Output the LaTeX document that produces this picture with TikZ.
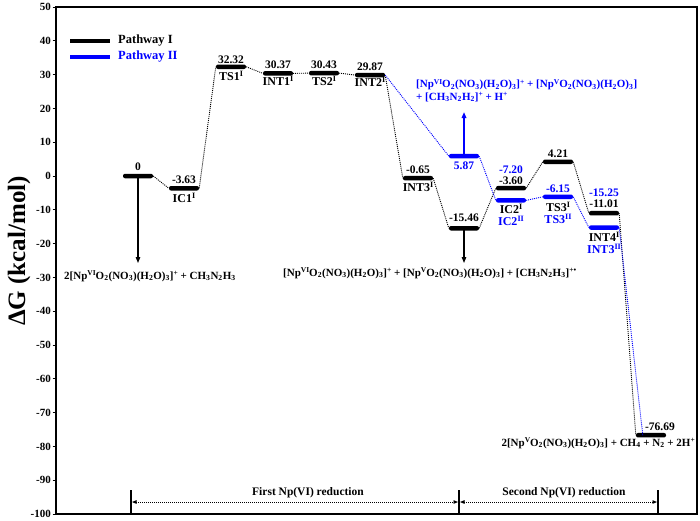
\documentclass[tikz,border=0pt]{standalone}
\usepackage{fontspec}
\setmainfont{Liberation Serif}
\usetikzlibrary{arrows.meta}
\makeatletter
\newcommand\SP[1]{\raisebox{0.34em}{\fontsize{\fpeval{0.68*\f@size}}{1}\selectfont #1}}
\makeatother
\newcommand\SB[1]{\textsubscript{#1}}
\definecolor{pblue}{RGB}{0,0,255}
\begin{document}
\begin{tikzpicture}[x=1pt,y=1pt,
  bar/.style={rectangle,fill=black,minimum width=30pt,minimum height=4.5pt,inner sep=0pt,rounded corners=2pt},
  bbar/.style={bar,fill=pblue},
  lab/.style={font=\fontsize{11}{12}\selectfont\bfseries,inner sep=0pt},
  blab/.style={lab,text=pblue},
  num/.style={font=\fontsize{11.5}{12}\selectfont\bfseries,inner sep=0pt},
  bnum/.style={num,text=pblue},
  nam/.style={font=\fontsize{12}{13}\selectfont\bfseries,inner sep=0pt},
  bnam/.style={nam,text=pblue},
  conn/.style={draw=black,line width=0.9pt,dash pattern=on 1pt off 1pt},
  bconn/.style={conn,draw=pblue},
  tip/.style={-{Triangle[length=6pt,width=4.5pt]}},
  mtip/.style={{Triangle[length=4.5pt,width=3.5pt]}-{Triangle[length=4.5pt,width=3.5pt]}},
]
\useasboundingbox (0,-520) rectangle (700,0);
% frame
\draw[line width=1.8pt] (56,-7) rectangle (697,-514);
% ticks
\foreach \v [count=\i] in {50,40,...,-100} {
  \draw[line width=1pt] (52.5,{-176+3.38*\v}) -- (56,{-176+3.38*\v});
  \node[lab,anchor=east] (tk\i) at (51,{-176+3.38*\v}) {\v};
}
\node[rotate=90,font=\fontsize{25}{28}\selectfont\bfseries,inner sep=0pt] (ylab) at (19,-251) {ΔG (kcal/mol)};
% legend
\coordinate (lg1a) at (70,-41); \coordinate (lg1b) at (110,-41);
\coordinate (lg2a) at (70,-57); \coordinate (lg2b) at (110,-57);
\draw[line width=4pt] (lg1a) -- (lg1b);
\draw[line width=4pt,pblue] (lg2a) -- (lg2b);
\node[font=\fontsize{12.5}{13}\selectfont\bfseries,inner sep=0pt,anchor=west] (lgt1) at (118,-41) {Pathway I};
\node[font=\fontsize{12.5}{13}\selectfont\bfseries,inner sep=0pt,text=pblue,anchor=west] (lgt2) at (118,-57) {Pathway II};
% levels
\begin{scope}[yshift=-176pt,y=3.38pt]
\node[bar] (L0) at (138,0) {};
\node[bar] (IC1) at (184,-3.63) {};
\node[bar] (TS1) at (231,32.32) {};
\node[bar] (INT1) at (278,30.37) {};
\node[bar] (TS2) at (324,30.43) {};
\node[bar] (INT2) at (370,29.87) {};
\node[bar] (INT3) at (418,-0.65) {};
\node[bbar] (B587) at (464,5.87) {};
\node[bar] (M1546) at (464,-15.46) {};
\node[bar] (IC2a) at (511,-3.60) {};
\node[bbar] (IC2b) at (511,-7.20) {};
\node[bar] (TS3a) at (558,4.21) {};
\node[bbar] (TS3b) at (558,-6.15) {};
\node[bar] (INT4a) at (604,-11.01) {};
\node[bbar] (INT3b) at (604,-15.25) {};
\node[bar] (Fin) at (651,-76.69) {};
\end{scope}
% black connectors
\draw[conn] (L0.east) -- (IC1.west);
\draw[conn] (IC1.east) -- (TS1.west);
\draw[conn] (TS1.east) -- (INT1.west);
\draw[conn] (INT1.east) -- (TS2.west);
\draw[conn] (TS2.east) -- (INT2.west);
\draw[conn] (INT2.east) -- (INT3.west);
\draw[conn] (INT3.east) -- (M1546.west);
\draw[conn] (M1546.east) -- (IC2a.west);
\draw[conn] (IC2a.east) -- (TS3a.west);
\draw[conn] (TS3a.east) -- (INT4a.west);
\draw[conn] (INT4a.east) -- (Fin.west);
% blue connectors
\draw[bconn] (INT2.east) -- (B587.west);
\draw[bconn] (B587.east) -- (IC2b.west);
\draw[bconn] (IC2b.east) -- (TS3b.west);
\draw[bconn] (TS3b.east) -- (INT3b.west);
\draw[bconn] (INT3b.east) -- ([xshift=7pt]Fin.west);
% arrows
\coordinate (a0) at (138,-263);
\coordinate (a1) at (464,-263);
\coordinate (a2) at (464,-112);
\draw[line width=1.2pt,tip] (L0.center) -- (a0);
\draw[line width=1.2pt,tip] (M1546.center) -- (a1);
\draw[line width=1.6pt,pblue,tip] (B587.center) -- (a2);
% level labels
\node[num] (n0) at (138,-167) {0};
\node[num] (n363) at (184,-180) {-3.63};
\node[nam] (nIC1) at (184,-198) {IC1\SP{I}};
\node[num] (n3232) at (231,-60) {32.32};
\node[nam] (nTS1) at (231,-76) {TS1\SP{I}};
\node[num] (n3037) at (278,-65) {30.37};
\node[nam] (nINT1) at (278,-81) {INT1\SP{I}};
\node[num] (n3043) at (324,-65) {30.43};
\node[nam] (nTS2) at (324,-81) {TS2\SP{I}};
\node[num] (n2987) at (370,-67) {29.87};
\node[nam] (nINT2) at (370,-82) {INT2\SP{I}};
\node[num] (n065) at (418,-170) {-0.65};
\node[nam] (nINT3) at (418,-187) {INT3\SP{I}};
\node[bnum] (n587) at (464,-166) {5.87};
\node[num] (n1546) at (464,-218) {-15.46};
\node[bnum] (n720) at (511,-169.5) {-7.20};
\node[num] (n360) at (511,-181) {-3.60};
\node[nam] (nIC2a) at (511,-208.5) {IC2\SP{I}};
\node[bnam] (nIC2b) at (511,-221) {IC2\SP{II}};
\node[num] (n421) at (558,-154) {4.21};
\node[bnum] (n615) at (558,-189) {-6.15};
\node[nam] (nTS3a) at (558,-206.5) {TS3\SP{I}};
\node[bnam] (nTS3b) at (558,-219) {TS3\SP{II}};
\node[bnum] (n1525) at (604,-192.5) {-15.25};
\node[num] (n1101) at (604,-204) {-11.01};
\node[nam] (nINT4a) at (604,-236.5) {INT4\SP{I}};
\node[bnam] (nINT3b) at (604,-249) {INT3\SP{II}};
\node[num] (n7669) at (660,-427) {-76.69};
% species labels
\node[lab,anchor=west] (r0) at (64,-276) {2[Np\SP{VI}O\SB{2}(NO\SB{3})(H\SB{2}O)\SB{3}]\SP{+} + CH\SB{3}N\SB{2}H\SB{3}};
\node[lab,anchor=west] (r1) at (283,-273) {[Np\SP{VI}O\SB{2}(NO\SB{3})(H\SB{2}O)\SB{3}]\SP{+} + [Np\SP{V}O\SB{2}(NO\SB{3})(H\SB{2}O)\SB{3}] + [CH\SB{3}N\SB{2}H\SB{3}]\SP{+\textbullet}};
\node[blab,anchor=north west,align=left,font=\fontsize{11}{12.5}\selectfont\bfseries] (r2) at (416,-79) {[Np\SP{VI}O\SB{2}(NO\SB{3})(H\SB{2}O)\SB{3}]\SP{+} + [Np\SP{V}O\SB{2}(NO\SB{3})(H\SB{2}O)\SB{3}]\\+ [CH\SB{3}N\SB{2}H\SB{2}]\SP{+} + H\SP{+}};
\node[lab,anchor=east] (r3) at (695,-443) {2[Np\SP{V}O\SB{2}(NO\SB{3})(H\SB{2}O)\SB{3}] + CH\SB{4} + N\SB{2} + 2H\SP{+}};
% bottom ranges
\coordinate (bA) at (131,-514); \coordinate (bAt) at (131,-490);
\coordinate (bB) at (459,-514); \coordinate (bBt) at (459,-490);
\coordinate (bC) at (658,-514); \coordinate (bCt) at (658,-490);
\draw[line width=1.5pt] (bA) -- (bAt);
\draw[line width=1.5pt] (bB) -- (bBt);
\draw[line width=1.5pt] (bC) -- (bCt);
\coordinate (mA) at (132,-502); \coordinate (mB1) at (458,-502);
\coordinate (mB2) at (460,-502); \coordinate (mC) at (657,-502);
\draw[conn,mtip] (mA) -- (mB1);
\draw[conn,mtip] (mB2) -- (mC);
\node[num] (f1) at (308,-493) {First Np(VI) reduction};
\node[num] (f2) at (564,-493) {Second Np(VI) reduction};
\end{tikzpicture}
\end{document}
